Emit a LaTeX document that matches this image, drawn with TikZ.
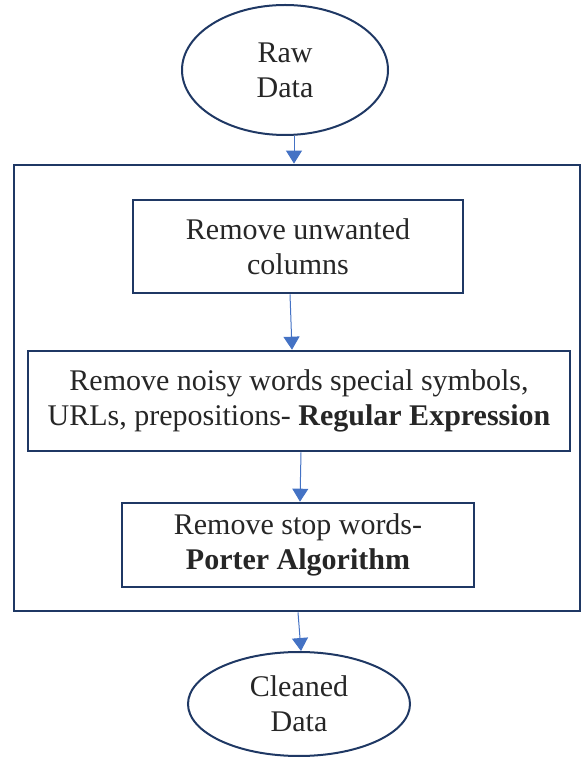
\documentclass[tikz,border=0pt]{standalone}
\usepackage{fontspec}
\setmainfont{Liberation Serif}
\usetikzlibrary{shapes.geometric,arrows.meta}
\definecolor{navy}{HTML}{1F3864}
\definecolor{flowblue}{HTML}{4472C4}
\begin{document}
\begin{tikzpicture}[x=1pt,y=1pt,
  txt/.style={font=\fontsize{30}{35}\selectfont, align=center, text=black!85},
  terminal/.style={ellipse, draw=navy, line width=2pt, txt, inner sep=0pt},
  stepbox/.style={rectangle, draw=navy, line width=2.6pt, txt, inner sep=0pt},
  flow/.style={draw=flowblue, line width=1pt, -{Triangle[length=13pt,width=16pt]}}]
\useasboundingbox (0,0) rectangle (582,758);
% outer frame around the cleaning steps
\node[rectangle, draw=navy, line width=2.8pt, minimum width=566, minimum height=446, inner sep=0pt] (frame) at (297,370) {};
\node[terminal, minimum width=206, minimum height=130] (raw) at (285,688) {Raw\\Data};
\node[stepbox, minimum width=330, minimum height=93] (s1) at (298,511.5) {Remove unwanted\\columns};
\node[stepbox, minimum width=542, minimum height=100] (s2) at (299,357) {Remove noisy words special symbols,\\URLs, prepositions- \textbf{Regular Expression}};
\node[stepbox, minimum width=352, minimum height=84] (s3) at (298,213) {Remove stop words-\\\textbf{Porter Algorithm}};
\node[terminal, minimum width=222, minimum height=104] (clean) at (299,54) {Cleaned\\Data};
\draw[flow] (raw.south) ++(9,0) coordinate (r0) -- (r0 |- frame.north);
\draw[flow] ([xshift=-8pt]s1.south) -- ([xshift=-7pt]s2.north);
\draw[flow] ([xshift=2pt]s2.south) -- ([xshift=2pt]s3.north);
\draw[flow] (frame.south) ++(1,0) coordinate (f0) -- ([xshift=2pt]clean.north);
\end{tikzpicture}
\end{document}
